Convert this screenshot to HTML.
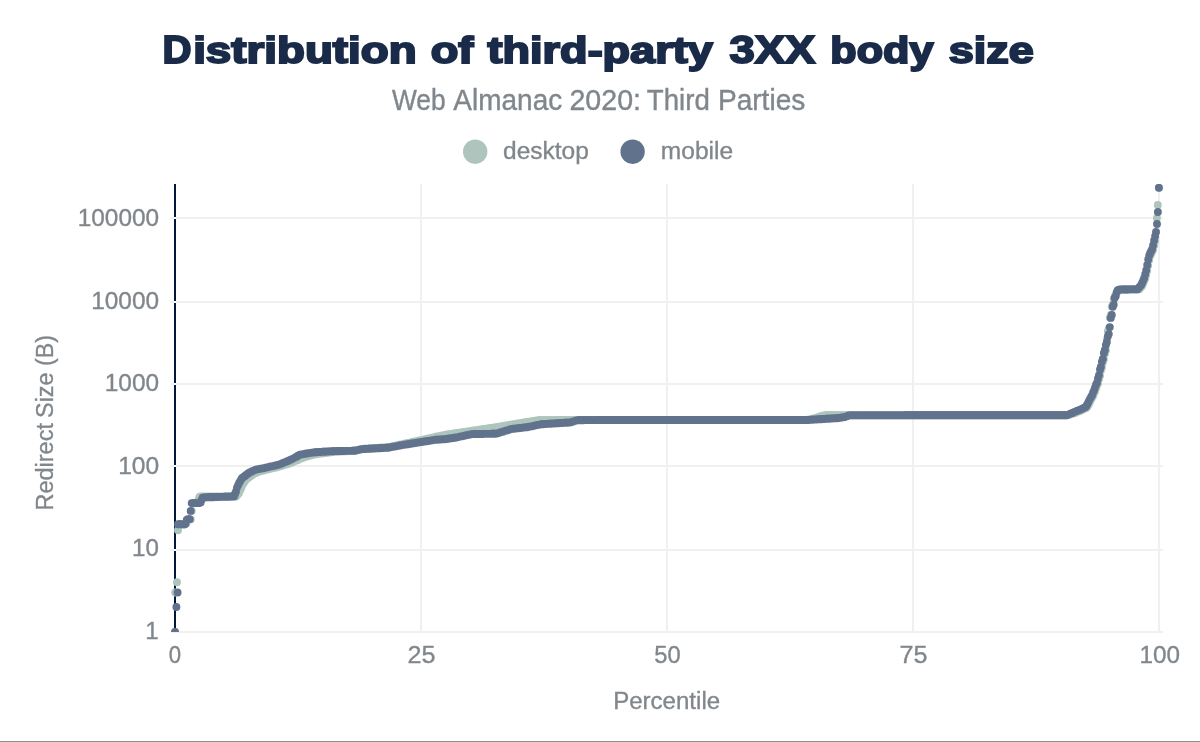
<!DOCTYPE html>
<html lang="en"><head><meta charset="utf-8"><title>Distribution of third-party 3XX body size</title>
<style>html,body{margin:0;padding:0;background:#fff;overflow:hidden}svg{display:block}text{font-family:"Liberation Sans",sans-serif;white-space:pre}</style></head><body>
<svg width="1200" height="742" viewBox="0 0 1200 742">
<rect width="1200" height="742" fill="#fff"/>
<g fill="#f0f0f0"><rect x="420" y="184" width="2" height="449"/><rect x="666" y="184" width="2" height="449"/><rect x="912" y="184" width="2" height="449"/><rect x="1158" y="184" width="2" height="449"/><rect x="171" y="217" width="992" height="2"/><rect x="171" y="301" width="992" height="2"/><rect x="171" y="383" width="992" height="2"/><rect x="171" y="465" width="992" height="2"/><rect x="171" y="549" width="992" height="2"/><rect x="171" y="631" width="992" height="2"/></g>
<rect x="174" y="184" width="2" height="448" fill="#03153a"/>
<g fill="#fff"><rect x="174" y="217" width="2" height="2"/><rect x="174" y="301" width="2" height="2"/><rect x="174" y="383" width="2" height="2"/><rect x="174" y="465" width="2" height="2"/><rect x="174" y="549" width="2" height="2"/></g>
<defs><clipPath id="c"><rect x="170" y="184" width="994" height="448"/></clipPath></defs>
<g clip-path="url(#c)" fill="none" stroke-linecap="round" stroke-width="7.90">
<path stroke="#adc5bd" d="M178.9 524.5h0M179.9 524.5h0M180.9 524.5h0M181.9 524.5h0M182.9 524.5h0M183.9 524.5h0M184.8 524.5h0M185.8 523.8h0M186.8 520.3h0M187.8 519.6h0M188.8 519.6h0M189.8 519.6h0M190.7 519.6h0M191.7 510.9h0M192.7 503.1h0M193.7 503.1h0M194.7 503.1h0M195.7 503.1h0M196.6 503.1h0M197.6 502.4h0M198.6 499.3h0M199.6 496.8h0M200.6 496.8h0M201.6 496.8h0M202.6 496.8h0M203.5 496.8h0M204.5 496.7h0M205.5 496.7h0M206.5 496.7h0M207.5 496.7h0M208.5 496.7h0M209.4 496.7h0M210.4 496.7h0M211.4 496.7h0M212.4 496.7h0M213.4 496.7h0M214.4 496.6h0M215.3 496.6h0M216.3 496.6h0M217.3 496.6h0M218.3 496.6h0M219.3 496.6h0M220.3 496.6h0M221.2 496.6h0M222.2 496.6h0M223.2 496.6h0M224.2 496.6h0M225.2 496.6h0M226.2 496.6h0M227.2 496.6h0M228.1 496.6h0M229.1 496.6h0M230.1 496.6h0M231.1 496.6h0M232.1 496.6h0M233.1 496.6h0M234.0 496.6h0M235.0 496.6h0M236.0 496.6h0M237.0 495.4h0M238.0 494.3h0M239.0 493.1h0M239.9 490.7h0M240.9 488.7h0M241.9 486.2h0M242.9 484.2h0M243.9 482.7h0M244.9 481.2h0M245.8 479.7h0M246.8 478.9h0M247.8 478.1h0M248.8 477.4h0M249.8 476.6h0M250.8 475.9h0M251.8 475.2h0M252.7 474.5h0M253.7 474.0h0M254.7 473.6h0M255.7 473.1h0M256.7 472.7h0M257.7 472.2h0M258.6 471.8h0M259.6 471.5h0M260.6 471.2h0M261.6 471.0h0M262.6 470.8h0M263.6 470.5h0M264.5 470.3h0M265.5 470.0h0M266.5 469.8h0M267.5 469.6h0M268.5 469.3h0M269.5 469.1h0M270.4 468.8h0M271.4 468.6h0M272.4 468.3h0M273.4 468.1h0M274.4 467.9h0M275.4 467.6h0M276.4 467.4h0M277.3 467.1h0M278.3 466.9h0M279.3 466.6h0M280.3 466.3h0M281.3 466.0h0M282.3 465.7h0M283.2 465.4h0M284.2 465.1h0M285.2 464.8h0M286.2 464.5h0M287.2 464.2h0M288.2 464.0h0M289.1 463.6h0M290.1 463.2h0M291.1 462.8h0M292.1 462.4h0M293.1 462.0h0M294.1 461.5h0M295.0 461.1h0M296.0 460.7h0M297.0 460.3h0M298.0 459.9h0M299.0 459.4h0M300.0 459.0h0M301.0 458.6h0M301.9 458.2h0M302.9 457.7h0M303.9 457.4h0M304.9 457.1h0M305.9 456.8h0M306.9 456.5h0M307.8 456.2h0M308.8 456.0h0M309.8 455.7h0M310.8 455.5h0M311.8 455.3h0M312.8 455.1h0M313.7 454.8h0M314.7 454.6h0M315.7 454.4h0M316.7 454.2h0M317.7 454.0h0M318.7 453.8h0M319.6 453.7h0M320.6 453.6h0M321.6 453.5h0M322.6 453.3h0M323.6 453.2h0M324.6 453.1h0M325.6 453.0h0M326.5 452.8h0M327.5 452.7h0M328.5 452.6h0M329.5 452.5h0M330.5 452.4h0M331.5 452.2h0M332.4 452.1h0M333.4 452.0h0M334.4 451.9h0M335.4 451.8h0M336.4 451.7h0M337.4 451.7h0M338.3 451.6h0M339.3 451.6h0M340.3 451.5h0M341.3 451.5h0M342.3 451.4h0M343.3 451.4h0M344.2 451.3h0M345.2 451.3h0M346.2 451.2h0M347.2 451.2h0M348.2 451.1h0M349.2 451.1h0M350.2 451.0h0M351.1 451.0h0M352.1 450.9h0M353.1 450.9h0M354.1 450.8h0M355.1 450.8h0M356.1 450.5h0M357.0 450.3h0M358.0 450.0h0M359.0 449.7h0M360.0 449.5h0M361.0 449.2h0M362.0 449.0h0M362.9 448.9h0M363.9 448.8h0M364.9 448.8h0M365.9 448.7h0M366.9 448.6h0M367.9 448.6h0M368.8 448.5h0M369.8 448.4h0M370.8 448.4h0M371.8 448.3h0M372.8 448.2h0M373.8 448.2h0M374.8 448.1h0M375.7 448.1h0M376.7 448.0h0M377.7 447.9h0M378.7 447.9h0M379.7 447.8h0M380.7 447.7h0M381.6 447.7h0M382.6 447.6h0M383.6 447.5h0M384.6 447.5h0M385.6 447.4h0M386.6 447.3h0M387.5 447.3h0M388.5 447.2h0M389.5 446.9h0M390.5 446.7h0M391.5 446.5h0M392.5 446.3h0M393.4 446.1h0M394.4 445.9h0M395.4 445.7h0M396.4 445.4h0M397.4 445.2h0M398.4 445.0h0M399.4 444.8h0M400.3 444.6h0M401.3 444.4h0M402.3 444.2h0M403.3 444.0h0M404.3 443.7h0M405.3 443.5h0M406.2 443.3h0M407.2 443.1h0M408.2 442.9h0M409.2 442.7h0M410.2 442.5h0M411.2 442.3h0M412.1 442.1h0M413.1 441.8h0M414.1 441.6h0M415.1 441.4h0M416.1 441.2h0M417.1 441.0h0M418.0 440.8h0M419.0 440.6h0M420.0 440.4h0M421.0 440.2h0M422.0 439.9h0M423.0 439.7h0M424.0 439.5h0M424.9 439.3h0M425.9 439.0h0M426.9 438.8h0M427.9 438.6h0M428.9 438.4h0M429.9 438.2h0M430.8 437.9h0M431.8 437.7h0M432.8 437.5h0M433.8 437.3h0M434.8 437.1h0M435.8 436.8h0M436.7 436.6h0M437.7 436.4h0M438.7 436.2h0M439.7 436.0h0M440.7 435.8h0M441.7 435.6h0M442.6 435.4h0M443.6 435.2h0M444.6 435.0h0M445.6 434.8h0M446.6 434.7h0M447.6 434.5h0M448.6 434.4h0M449.5 434.2h0M450.5 434.1h0M451.5 433.9h0M452.5 433.8h0M453.5 433.6h0M454.5 433.5h0M455.4 433.3h0M456.4 433.2h0M457.4 433.0h0M458.4 432.9h0M459.4 432.7h0M460.4 432.6h0M461.3 432.5h0M462.3 432.3h0M463.3 432.2h0M464.3 432.0h0M465.3 431.9h0M466.3 431.7h0M467.2 431.6h0M468.2 431.4h0M469.2 431.3h0M470.2 431.1h0M471.2 431.0h0M472.2 430.8h0M473.2 430.7h0M474.1 430.5h0M475.1 430.4h0M476.1 430.2h0M477.1 430.1h0M478.1 429.9h0M479.1 429.8h0M480.0 429.6h0M481.0 429.5h0M482.0 429.3h0M483.0 429.2h0M484.0 429.1h0M485.0 428.9h0M485.9 428.8h0M486.9 428.6h0M487.9 428.5h0M488.9 428.3h0M489.9 428.2h0M490.9 428.0h0M491.8 427.9h0M492.8 427.7h0M493.8 427.6h0M494.8 427.4h0M495.8 427.3h0M496.8 427.1h0M497.8 427.0h0M498.7 426.8h0M499.7 426.7h0M500.7 426.5h0M501.7 426.3h0M502.7 426.2h0M503.7 426.0h0M504.6 425.8h0M505.6 425.7h0M506.6 425.5h0M507.6 425.3h0M508.6 425.2h0M509.6 425.0h0M510.5 424.8h0M511.5 424.7h0M512.5 424.5h0M513.5 424.3h0M514.5 424.1h0M515.5 424.0h0M516.4 423.8h0M517.4 423.6h0M518.4 423.5h0M519.4 423.3h0M520.4 423.2h0M521.4 423.0h0M522.4 422.8h0M523.3 422.7h0M524.3 422.5h0M525.3 422.3h0M526.3 422.2h0M527.3 422.0h0M528.3 421.9h0M529.2 421.7h0M530.2 421.5h0M531.2 421.4h0M532.2 421.2h0M533.2 421.0h0M534.2 420.9h0M535.1 420.7h0M536.1 420.6h0M537.1 420.4h0M538.1 420.2h0M539.1 420.2h0M540.1 420.2h0M541.0 420.2h0M542.0 420.2h0M543.0 420.2h0M544.0 420.1h0M545.0 420.1h0M546.0 420.1h0M547.0 420.1h0M547.9 420.1h0M548.9 420.1h0M549.9 420.1h0M550.9 420.1h0M551.9 420.1h0M552.9 420.1h0M553.8 420.1h0M554.8 420.1h0M555.8 420.0h0M556.8 420.0h0M557.8 420.0h0M558.8 420.0h0M559.7 420.0h0M560.7 420.0h0M561.7 420.0h0M562.7 420.0h0M563.7 420.0h0M564.7 420.0h0M565.6 420.0h0M566.6 419.9h0M567.6 419.9h0M568.6 419.9h0M569.6 419.9h0M570.6 419.9h0M571.6 419.9h0M572.5 419.9h0M573.5 419.9h0M574.5 419.9h0M575.5 419.9h0M576.5 419.9h0M577.5 419.9h0M578.4 419.9h0M579.4 419.9h0M580.4 419.9h0M581.4 419.9h0M582.4 419.9h0M583.4 419.9h0M584.3 419.9h0M585.3 419.9h0M586.3 419.9h0M587.3 419.9h0M588.3 419.9h0M589.3 420.0h0M590.2 420.0h0M591.2 420.0h0M592.2 420.0h0M593.2 420.0h0M594.2 420.0h0M595.2 420.0h0M596.2 420.0h0M597.1 420.0h0M598.1 420.0h0M599.1 420.0h0M600.1 420.0h0M601.1 420.0h0M602.1 420.0h0M603.0 420.0h0M604.0 420.0h0M605.0 420.0h0M606.0 420.0h0M607.0 420.0h0M608.0 420.0h0M608.9 420.0h0M609.9 420.0h0M610.9 420.0h0M611.9 420.0h0M612.9 420.0h0M613.9 420.0h0M614.8 420.0h0M615.8 420.0h0M616.8 420.0h0M617.8 420.0h0M618.8 420.0h0M619.8 420.0h0M620.8 420.0h0M621.7 420.0h0M622.7 420.0h0M623.7 420.0h0M624.7 420.0h0M625.7 420.0h0M626.7 420.0h0M627.6 420.0h0M628.6 420.0h0M629.6 420.0h0M630.6 420.0h0M631.6 420.0h0M632.6 420.0h0M633.5 420.0h0M634.5 420.0h0M635.5 420.0h0M636.5 420.0h0M637.5 420.0h0M638.5 420.0h0M639.4 420.0h0M640.4 420.0h0M641.4 420.0h0M642.4 420.0h0M643.4 420.0h0M644.4 420.0h0M645.4 420.0h0M646.3 420.0h0M647.3 420.0h0M648.3 420.0h0M649.3 420.0h0M650.3 420.0h0M651.3 420.0h0M652.2 420.0h0M653.2 420.0h0M654.2 420.0h0M655.2 420.0h0M656.2 420.0h0M657.2 420.0h0M658.1 420.0h0M659.1 420.0h0M660.1 420.0h0M661.1 420.0h0M662.1 420.0h0M663.1 420.0h0M664.0 420.0h0M665.0 420.0h0M666.0 420.0h0M667.0 420.0h0M668.0 420.0h0M669.0 420.0h0M670.0 420.0h0M670.9 420.0h0M671.9 420.0h0M672.9 420.0h0M673.9 420.0h0M674.9 420.0h0M675.9 420.0h0M676.8 420.0h0M677.8 420.0h0M678.8 420.0h0M679.8 420.0h0M680.8 420.0h0M681.8 420.0h0M682.7 420.0h0M683.7 420.0h0M684.7 420.0h0M685.7 420.0h0M686.7 420.0h0M687.7 420.0h0M688.6 420.0h0M689.6 420.0h0M690.6 420.0h0M691.6 420.0h0M692.6 420.0h0M693.6 420.0h0M694.6 420.0h0M695.5 420.0h0M696.5 420.0h0M697.5 420.0h0M698.5 420.0h0M699.5 420.0h0M700.5 420.0h0M701.4 420.0h0M702.4 420.0h0M703.4 420.0h0M704.4 420.0h0M705.4 420.0h0M706.4 420.0h0M707.3 420.0h0M708.3 420.0h0M709.3 420.0h0M710.3 420.0h0M711.3 420.0h0M712.3 420.0h0M713.2 420.0h0M714.2 420.0h0M715.2 420.0h0M716.2 420.0h0M717.2 420.0h0M718.2 420.0h0M719.2 420.0h0M720.1 420.0h0M721.1 420.0h0M722.1 420.0h0M723.1 420.0h0M724.1 420.0h0M725.1 420.0h0M726.0 420.0h0M727.0 420.0h0M728.0 420.0h0M729.0 420.0h0M730.0 420.0h0M731.0 420.0h0M731.9 420.0h0M732.9 420.0h0M733.9 420.0h0M734.9 420.0h0M735.9 420.0h0M736.9 420.0h0M737.8 420.0h0M738.8 420.0h0M739.8 420.0h0M740.8 420.0h0M741.8 420.0h0M742.8 420.0h0M743.8 420.0h0M744.7 420.0h0M745.7 420.0h0M746.7 420.0h0M747.7 420.0h0M748.7 420.0h0M749.7 420.0h0M750.6 420.0h0M751.6 420.0h0M752.6 420.0h0M753.6 420.0h0M754.6 420.0h0M755.6 420.0h0M756.5 420.0h0M757.5 420.0h0M758.5 420.0h0M759.5 420.0h0M760.5 420.0h0M761.5 420.0h0M762.4 420.0h0M763.4 420.0h0M764.4 420.0h0M765.4 420.0h0M766.4 420.0h0M767.4 420.0h0M768.4 420.0h0M769.3 420.0h0M770.3 420.0h0M771.3 420.0h0M772.3 420.0h0M773.3 420.0h0M774.3 420.0h0M775.2 420.0h0M776.2 420.0h0M777.2 420.0h0M778.2 420.0h0M779.2 420.0h0M780.2 420.0h0M781.1 420.0h0M782.1 420.0h0M783.1 420.0h0M784.1 420.0h0M785.1 420.0h0M786.1 420.0h0M787.0 420.0h0M788.0 420.0h0M789.0 420.0h0M790.0 420.0h0M791.0 420.0h0M792.0 420.0h0M793.0 420.0h0M793.9 420.0h0M794.9 420.0h0M795.9 420.0h0M796.9 420.0h0M797.9 420.0h0M798.9 420.0h0M799.8 420.0h0M800.8 420.0h0M801.8 420.0h0M802.8 420.0h0M803.8 420.0h0M804.8 420.0h0M805.7 420.0h0M806.7 419.9h0M807.7 419.7h0M808.7 419.6h0M809.7 419.4h0M810.7 419.2h0M811.6 419.1h0M812.6 418.8h0M813.6 418.5h0M814.6 418.2h0M815.6 417.9h0M816.6 417.6h0M817.6 417.2h0M818.5 416.9h0M819.5 416.6h0M820.5 416.3h0M821.5 416.0h0M822.5 415.7h0M823.5 415.4h0M824.4 415.2h0M825.4 415.2h0M826.4 415.2h0M827.4 415.2h0M828.4 415.2h0M829.4 415.2h0M830.3 415.2h0M831.3 415.2h0M832.3 415.2h0M833.3 415.2h0M834.3 415.2h0M835.3 415.2h0M836.2 415.2h0M837.2 415.2h0M838.2 415.2h0M839.2 415.2h0M840.2 415.2h0M841.2 415.2h0M842.2 415.2h0M843.1 415.2h0M844.1 415.2h0M845.1 415.2h0M846.1 415.2h0M847.1 415.2h0M848.1 415.2h0M849.0 415.2h0M850.0 415.2h0M851.0 415.2h0M852.0 415.2h0M853.0 415.2h0M854.0 415.2h0M854.9 415.2h0M855.9 415.2h0M856.9 415.2h0M857.9 415.2h0M858.9 415.2h0M859.9 415.2h0M860.8 415.2h0M861.8 415.2h0M862.8 415.2h0M863.8 415.2h0M864.8 415.2h0M865.8 415.2h0M866.8 415.2h0M867.7 415.2h0M868.7 415.2h0M869.7 415.2h0M870.7 415.2h0M871.7 415.2h0M872.7 415.2h0M873.6 415.2h0M874.6 415.2h0M875.6 415.2h0M876.6 415.2h0M877.6 415.2h0M878.6 415.2h0M879.5 415.2h0M880.5 415.2h0M881.5 415.2h0M882.5 415.2h0M883.5 415.2h0M884.5 415.2h0M885.4 415.2h0M886.4 415.2h0M887.4 415.2h0M888.4 415.2h0M889.4 415.2h0M890.4 415.2h0M891.4 415.2h0M892.3 415.2h0M893.3 415.2h0M894.3 415.2h0M895.3 415.2h0M896.3 415.2h0M897.3 415.2h0M898.2 415.2h0M899.2 415.2h0M900.2 415.2h0M901.2 415.2h0M902.2 415.2h0M903.2 415.2h0M904.1 415.2h0M905.1 415.2h0M906.1 415.2h0M907.1 415.2h0M908.1 415.2h0M909.1 415.2h0M910.0 415.2h0M911.0 415.2h0M912.0 415.2h0M913.0 415.2h0M914.0 415.2h0M915.0 415.2h0M916.0 415.2h0M916.9 415.2h0M917.9 415.2h0M918.9 415.2h0M919.9 415.2h0M920.9 415.2h0M921.9 415.2h0M922.8 415.2h0M923.8 415.2h0M924.8 415.2h0M925.8 415.2h0M926.8 415.2h0M927.8 415.2h0M928.7 415.2h0M929.7 415.2h0M930.7 415.2h0M931.7 415.2h0M932.7 415.2h0M933.7 415.2h0M934.6 415.2h0M935.6 415.2h0M936.6 415.2h0M937.6 415.2h0M938.6 415.2h0M939.6 415.2h0M940.6 415.2h0M941.5 415.2h0M942.5 415.2h0M943.5 415.2h0M944.5 415.2h0M945.5 415.2h0M946.5 415.2h0M947.4 415.2h0M948.4 415.2h0M949.4 415.2h0M950.4 415.2h0M951.4 415.2h0M952.4 415.2h0M953.3 415.2h0M954.3 415.2h0M955.3 415.2h0M956.3 415.2h0M957.3 415.2h0M958.3 415.2h0M959.2 415.2h0M960.2 415.2h0M961.2 415.2h0M962.2 415.2h0M963.2 415.2h0M964.2 415.2h0M965.2 415.2h0M966.1 415.2h0M967.1 415.2h0M968.1 415.2h0M969.1 415.2h0M970.1 415.2h0M971.1 415.2h0M972.0 415.2h0M973.0 415.2h0M974.0 415.2h0M975.0 415.2h0M976.0 415.2h0M977.0 415.2h0M977.9 415.2h0M978.9 415.2h0M979.9 415.2h0M980.9 415.2h0M981.9 415.2h0M982.9 415.2h0M983.8 415.2h0M984.8 415.2h0M985.8 415.2h0M986.8 415.2h0M987.8 415.2h0M988.8 415.2h0M989.8 415.2h0M990.7 415.2h0M991.7 415.2h0M992.7 415.2h0M993.7 415.2h0M994.7 415.2h0M995.7 415.2h0M996.6 415.2h0M997.6 415.2h0M998.6 415.2h0M999.6 415.2h0M1000.6 415.2h0M1001.6 415.2h0M1002.5 415.2h0M1003.5 415.2h0M1004.5 415.2h0M1005.5 415.2h0M1006.5 415.2h0M1007.5 415.2h0M1008.4 415.2h0M1009.4 415.2h0M1010.4 415.2h0M1011.4 415.2h0M1012.4 415.2h0M1013.4 415.2h0M1014.4 415.2h0M1015.3 415.2h0M1016.3 415.2h0M1017.3 415.2h0M1018.3 415.2h0M1019.3 415.2h0M1020.3 415.2h0M1021.2 415.2h0M1022.2 415.2h0M1023.2 415.2h0M1024.2 415.2h0M1025.2 415.2h0M1026.2 415.2h0M1027.1 415.2h0M1028.1 415.2h0M1029.1 415.2h0M1030.1 415.2h0M1031.1 415.2h0M1032.1 415.2h0M1033.0 415.2h0M1034.0 415.2h0M1035.0 415.2h0M1036.0 415.2h0M1037.0 415.2h0M1038.0 415.2h0M1039.0 415.2h0M1039.9 415.2h0M1040.9 415.2h0M1041.9 415.2h0M1042.9 415.2h0M1043.9 415.2h0M1044.9 415.2h0M1045.8 415.2h0M1046.8 415.2h0M1047.8 415.2h0M1048.8 415.2h0M1049.8 415.2h0M1050.8 415.2h0M1051.7 415.2h0M1052.7 415.2h0M1053.7 415.2h0M1054.7 415.2h0M1055.7 415.2h0M1056.7 415.2h0M1057.6 415.2h0M1058.6 415.2h0M1059.6 415.2h0M1060.6 415.2h0M1061.6 415.2h0M1062.6 415.2h0M1063.6 415.2h0M1064.5 415.2h0M1065.5 415.2h0M1066.5 415.2h0M1067.5 415.2h0M1068.5 415.1h0M1069.5 414.7h0M1070.4 414.4h0M1071.4 414.1h0M1072.4 413.8h0M1073.4 413.5h0M1074.4 413.2h0M1075.4 412.8h0M1076.3 412.4h0M1077.3 412.0h0M1078.3 411.6h0M1079.3 411.2h0M1080.3 410.9h0M1081.3 410.5h0M1082.2 410.0h0M1083.2 409.5h0M1084.2 409.0h0M1085.2 408.6h0M1086.2 408.1h0M1087.2 407.1h0M1088.2 405.3h0M1089.1 403.4h0M1090.1 401.4h0M1091.1 399.4h0M1092.1 397.7h0M1093.1 396.1h0M1094.1 393.2h0M1095.0 391.2h0M1096.0 388.4h0M1097.0 385.5h0M1098.0 383.5h0M1099.0 379.3h0M1100.0 376.0h0M1100.9 370.4h0M1101.9 367.6h0M1102.9 362.5h0M1103.9 359.6h0M1104.9 353.8h0M1105.9 350.5h0M1106.8 339.8h0M1107.8 331.1h0M1108.8 328.5h0M1109.8 317.7h0M1110.8 314.9h0M1111.8 306.6h0M1112.8 304.6h0M1113.7 299.0h0M1114.7 296.5h0M1115.7 294.7h0M1116.7 292.9h0M1117.7 291.5h0M1118.7 290.2h0M1119.6 289.8h0M1120.6 289.8h0M1121.6 289.8h0M1122.6 289.7h0M1123.6 289.7h0M1124.6 289.7h0M1125.5 289.7h0M1126.5 289.7h0M1127.5 289.7h0M1128.5 289.7h0M1129.5 289.6h0M1130.5 289.6h0M1131.4 289.6h0M1132.4 289.6h0M1133.4 289.6h0M1134.4 289.6h0M1135.4 289.6h0M1136.4 289.5h0M1137.4 289.5h0M1138.3 289.5h0M1139.3 289.2h0M1140.3 288.1h0M1141.3 287.1h0M1142.3 285.5h0M1143.3 283.3h0M1144.2 281.0h0M1145.2 278.7h0M1146.2 274.8h0M1147.2 270.8h0M1148.2 265.5h0M1149.2 260.1h0M1150.1 256.2h0M1151.1 254.1h0M1152.1 252.1h0M1153.1 250.0h0M1154.1 245.8h0M1155.1 241.0h0M175.0 632.0h0M175.2 592.5h0M177.0 582.2h0M178.0 530.2h0M1156.9 218.0h0M1157.8 205.0h0M1158.9 187.8h0"/>
<path stroke="#61728c" d="M178.0 524.3h0M178.9 524.3h0M179.9 524.3h0M180.9 524.3h0M181.9 524.3h0M182.9 524.3h0M183.9 524.3h0M184.8 524.3h0M185.8 523.5h0M186.8 519.9h0M187.8 519.1h0M188.8 519.1h0M189.8 519.1h0M190.7 510.9h0M191.7 503.1h0M192.7 503.1h0M193.7 503.1h0M194.7 503.1h0M195.7 503.1h0M196.6 503.1h0M197.6 503.1h0M198.6 503.1h0M199.6 503.1h0M200.6 502.5h0M201.6 499.9h0M202.6 497.7h0M203.5 497.5h0M204.5 497.4h0M205.5 497.4h0M206.5 497.4h0M207.5 497.3h0M208.5 497.3h0M209.4 497.3h0M210.4 497.3h0M211.4 497.2h0M212.4 497.2h0M213.4 497.2h0M214.4 497.1h0M215.3 497.1h0M216.3 497.1h0M217.3 497.0h0M218.3 497.0h0M219.3 497.0h0M220.3 496.9h0M221.2 496.9h0M222.2 496.9h0M223.2 496.9h0M224.2 496.8h0M225.2 496.8h0M226.2 496.8h0M227.2 496.7h0M228.1 496.7h0M229.1 496.7h0M230.1 496.6h0M231.1 496.6h0M232.1 496.6h0M233.1 496.5h0M234.0 496.5h0M235.0 493.9h0M236.0 491.5h0M237.0 487.6h0M238.0 485.4h0M239.0 483.3h0M239.9 481.6h0M240.9 479.9h0M241.9 478.3h0M242.9 477.5h0M243.9 476.7h0M244.9 476.0h0M245.8 475.2h0M246.8 474.4h0M247.8 473.6h0M248.8 472.9h0M249.8 472.4h0M250.8 472.0h0M251.8 471.5h0M252.7 471.0h0M253.7 470.6h0M254.7 470.1h0M255.7 469.7h0M256.7 469.5h0M257.7 469.3h0M258.6 469.1h0M259.6 468.9h0M260.6 468.7h0M261.6 468.6h0M262.6 468.4h0M263.6 468.2h0M264.5 468.0h0M265.5 467.8h0M266.5 467.5h0M267.5 467.3h0M268.5 467.1h0M269.5 466.8h0M270.4 466.6h0M271.4 466.4h0M272.4 466.1h0M273.4 465.9h0M274.4 465.7h0M275.4 465.4h0M276.4 465.2h0M277.3 465.0h0M278.3 464.7h0M279.3 464.4h0M280.3 464.1h0M281.3 463.7h0M282.3 463.3h0M283.2 462.9h0M284.2 462.5h0M285.2 462.1h0M286.2 461.7h0M287.2 461.3h0M288.2 460.9h0M289.1 460.5h0M290.1 460.0h0M291.1 459.5h0M292.1 459.1h0M293.1 458.6h0M294.1 458.1h0M295.0 457.6h0M296.0 457.0h0M297.0 456.4h0M298.0 455.7h0M299.0 455.1h0M300.0 454.8h0M301.0 454.6h0M301.9 454.4h0M302.9 454.2h0M303.9 454.0h0M304.9 453.8h0M305.9 453.7h0M306.9 453.5h0M307.8 453.4h0M308.8 453.2h0M309.8 453.1h0M310.8 452.9h0M311.8 452.8h0M312.8 452.6h0M313.7 452.5h0M314.7 452.3h0M315.7 452.3h0M316.7 452.2h0M317.7 452.1h0M318.7 452.1h0M319.6 452.0h0M320.6 452.0h0M321.6 451.9h0M322.6 451.8h0M323.6 451.8h0M324.6 451.7h0M325.6 451.7h0M326.5 451.6h0M327.5 451.5h0M328.5 451.5h0M329.5 451.4h0M330.5 451.4h0M331.5 451.3h0M332.4 451.3h0M333.4 451.2h0M334.4 451.1h0M335.4 451.1h0M336.4 451.1h0M337.4 451.1h0M338.3 451.0h0M339.3 451.0h0M340.3 451.0h0M341.3 451.0h0M342.3 451.0h0M343.3 451.0h0M344.2 451.0h0M345.2 450.9h0M346.2 450.9h0M347.2 450.9h0M348.2 450.9h0M349.2 450.9h0M350.2 450.9h0M351.1 450.9h0M352.1 450.8h0M353.1 450.8h0M354.1 450.8h0M355.1 450.8h0M356.1 450.5h0M357.0 450.3h0M358.0 450.1h0M359.0 449.8h0M360.0 449.6h0M361.0 449.4h0M362.0 449.2h0M362.9 449.1h0M363.9 449.1h0M364.9 449.0h0M365.9 449.0h0M366.9 448.9h0M367.9 448.9h0M368.8 448.8h0M369.8 448.7h0M370.8 448.7h0M371.8 448.6h0M372.8 448.6h0M373.8 448.5h0M374.8 448.5h0M375.7 448.4h0M376.7 448.4h0M377.7 448.3h0M378.7 448.2h0M379.7 448.2h0M380.7 448.1h0M381.6 448.1h0M382.6 448.0h0M383.6 448.0h0M384.6 447.9h0M385.6 447.9h0M386.6 447.8h0M387.5 447.7h0M388.5 447.7h0M389.5 447.5h0M390.5 447.3h0M391.5 447.1h0M392.5 446.9h0M393.4 446.7h0M394.4 446.6h0M395.4 446.4h0M396.4 446.2h0M397.4 446.0h0M398.4 445.8h0M399.4 445.6h0M400.3 445.5h0M401.3 445.3h0M402.3 445.1h0M403.3 444.9h0M404.3 444.8h0M405.3 444.6h0M406.2 444.5h0M407.2 444.3h0M408.2 444.2h0M409.2 444.0h0M410.2 443.8h0M411.2 443.7h0M412.1 443.5h0M413.1 443.4h0M414.1 443.2h0M415.1 443.1h0M416.1 442.9h0M417.1 442.7h0M418.0 442.6h0M419.0 442.4h0M420.0 442.3h0M421.0 442.1h0M422.0 442.0h0M423.0 441.8h0M424.0 441.6h0M424.9 441.5h0M425.9 441.3h0M426.9 441.2h0M427.9 441.0h0M428.9 440.9h0M429.9 440.7h0M430.8 440.6h0M431.8 440.4h0M432.8 440.2h0M433.8 440.1h0M434.8 439.9h0M435.8 439.8h0M436.7 439.8h0M437.7 439.7h0M438.7 439.6h0M439.7 439.6h0M440.7 439.5h0M441.7 439.4h0M442.6 439.4h0M443.6 439.3h0M444.6 439.2h0M445.6 439.1h0M446.6 439.0h0M447.6 438.8h0M448.6 438.7h0M449.5 438.5h0M450.5 438.4h0M451.5 438.3h0M452.5 438.1h0M453.5 438.0h0M454.5 437.8h0M455.4 437.7h0M456.4 437.5h0M457.4 437.3h0M458.4 437.1h0M459.4 436.8h0M460.4 436.6h0M461.3 436.4h0M462.3 436.2h0M463.3 436.0h0M464.3 435.8h0M465.3 435.5h0M466.3 435.3h0M467.2 435.1h0M468.2 434.9h0M469.2 434.7h0M470.2 434.4h0M471.2 434.2h0M472.2 434.1h0M473.2 434.1h0M474.1 434.1h0M475.1 434.1h0M476.1 434.0h0M477.1 434.0h0M478.1 434.0h0M479.1 434.0h0M480.0 434.0h0M481.0 434.0h0M482.0 434.0h0M483.0 434.0h0M484.0 433.9h0M485.0 433.9h0M485.9 433.9h0M486.9 433.9h0M487.9 433.9h0M488.9 433.9h0M489.9 433.9h0M490.9 433.9h0M491.8 433.8h0M492.8 433.8h0M493.8 433.8h0M494.8 433.8h0M495.8 433.8h0M496.8 433.5h0M497.8 433.2h0M498.7 432.9h0M499.7 432.6h0M500.7 432.3h0M501.7 432.0h0M502.7 431.7h0M503.7 431.4h0M504.6 431.1h0M505.6 430.8h0M506.6 430.5h0M507.6 430.2h0M508.6 429.9h0M509.6 429.6h0M510.5 429.3h0M511.5 429.1h0M512.5 428.9h0M513.5 428.8h0M514.5 428.7h0M515.5 428.6h0M516.4 428.4h0M517.4 428.3h0M518.4 428.2h0M519.4 428.1h0M520.4 428.0h0M521.4 427.9h0M522.4 427.7h0M523.3 427.6h0M524.3 427.5h0M525.3 427.4h0M526.3 427.3h0M527.3 427.2h0M528.3 427.0h0M529.2 426.8h0M530.2 426.6h0M531.2 426.4h0M532.2 426.2h0M533.2 425.9h0M534.2 425.7h0M535.1 425.5h0M536.1 425.3h0M537.1 425.1h0M538.1 424.9h0M539.1 424.7h0M540.1 424.5h0M541.0 424.3h0M542.0 424.2h0M543.0 424.2h0M544.0 424.1h0M545.0 424.1h0M546.0 424.0h0M547.0 423.9h0M547.9 423.9h0M548.9 423.8h0M549.9 423.8h0M550.9 423.7h0M551.9 423.6h0M552.9 423.6h0M553.8 423.5h0M554.8 423.5h0M555.8 423.4h0M556.8 423.3h0M557.8 423.3h0M558.8 423.2h0M559.7 423.1h0M560.7 423.1h0M561.7 423.0h0M562.7 423.0h0M563.7 422.9h0M564.7 422.8h0M565.6 422.8h0M566.6 422.7h0M567.6 422.7h0M568.6 422.6h0M569.6 422.5h0M570.6 422.4h0M571.6 422.1h0M572.5 421.7h0M573.5 421.4h0M574.5 421.1h0M575.5 420.7h0M576.5 420.4h0M577.5 420.2h0M578.4 420.2h0M579.4 420.2h0M580.4 420.2h0M581.4 420.2h0M582.4 420.2h0M583.4 420.2h0M584.3 420.1h0M585.3 420.1h0M586.3 420.1h0M587.3 420.1h0M588.3 420.1h0M589.3 420.1h0M590.2 420.1h0M591.2 420.1h0M592.2 420.1h0M593.2 420.1h0M594.2 420.1h0M595.2 420.1h0M596.2 420.1h0M597.1 420.1h0M598.1 420.0h0M599.1 420.0h0M600.1 420.0h0M601.1 420.0h0M602.1 420.0h0M603.0 420.0h0M604.0 420.0h0M605.0 420.0h0M606.0 420.0h0M607.0 420.0h0M608.0 420.0h0M608.9 420.0h0M609.9 420.0h0M610.9 420.0h0M611.9 420.0h0M612.9 420.0h0M613.9 420.0h0M614.8 420.0h0M615.8 420.0h0M616.8 420.0h0M617.8 420.0h0M618.8 420.0h0M619.8 420.0h0M620.8 420.0h0M621.7 420.0h0M622.7 420.0h0M623.7 420.0h0M624.7 420.0h0M625.7 420.0h0M626.7 420.0h0M627.6 420.0h0M628.6 420.0h0M629.6 420.0h0M630.6 420.0h0M631.6 420.0h0M632.6 420.0h0M633.5 420.0h0M634.5 420.0h0M635.5 420.0h0M636.5 420.0h0M637.5 420.0h0M638.5 420.0h0M639.4 420.0h0M640.4 420.0h0M641.4 420.0h0M642.4 420.0h0M643.4 420.0h0M644.4 420.0h0M645.4 420.0h0M646.3 420.0h0M647.3 420.0h0M648.3 420.0h0M649.3 420.0h0M650.3 420.0h0M651.3 420.0h0M652.2 420.0h0M653.2 420.0h0M654.2 420.0h0M655.2 420.0h0M656.2 420.0h0M657.2 420.0h0M658.1 420.0h0M659.1 420.0h0M660.1 420.0h0M661.1 420.0h0M662.1 420.0h0M663.1 420.0h0M664.0 420.0h0M665.0 420.0h0M666.0 420.0h0M667.0 420.0h0M668.0 420.0h0M669.0 420.0h0M670.0 420.0h0M670.9 420.0h0M671.9 420.0h0M672.9 420.0h0M673.9 420.0h0M674.9 420.0h0M675.9 420.0h0M676.8 420.0h0M677.8 420.0h0M678.8 420.0h0M679.8 420.0h0M680.8 420.0h0M681.8 420.0h0M682.7 420.0h0M683.7 420.0h0M684.7 420.0h0M685.7 420.0h0M686.7 420.0h0M687.7 420.0h0M688.6 420.0h0M689.6 420.0h0M690.6 420.0h0M691.6 420.0h0M692.6 420.0h0M693.6 420.0h0M694.6 420.0h0M695.5 420.0h0M696.5 420.0h0M697.5 420.0h0M698.5 420.0h0M699.5 420.0h0M700.5 420.0h0M701.4 420.0h0M702.4 420.0h0M703.4 420.0h0M704.4 420.0h0M705.4 420.0h0M706.4 420.0h0M707.3 420.0h0M708.3 420.0h0M709.3 420.0h0M710.3 420.0h0M711.3 420.0h0M712.3 420.0h0M713.2 420.0h0M714.2 420.0h0M715.2 420.0h0M716.2 420.0h0M717.2 420.0h0M718.2 420.0h0M719.2 420.0h0M720.1 420.0h0M721.1 420.0h0M722.1 420.0h0M723.1 420.0h0M724.1 420.0h0M725.1 420.0h0M726.0 420.0h0M727.0 420.0h0M728.0 420.0h0M729.0 420.0h0M730.0 420.0h0M731.0 420.0h0M731.9 420.0h0M732.9 420.0h0M733.9 420.0h0M734.9 420.0h0M735.9 420.0h0M736.9 420.0h0M737.8 420.0h0M738.8 420.0h0M739.8 420.0h0M740.8 420.0h0M741.8 420.0h0M742.8 420.0h0M743.8 420.0h0M744.7 420.0h0M745.7 420.0h0M746.7 420.0h0M747.7 420.0h0M748.7 420.0h0M749.7 420.0h0M750.6 420.0h0M751.6 420.0h0M752.6 420.0h0M753.6 420.0h0M754.6 420.0h0M755.6 420.0h0M756.5 420.0h0M757.5 420.0h0M758.5 420.0h0M759.5 420.0h0M760.5 420.0h0M761.5 420.0h0M762.4 420.0h0M763.4 420.0h0M764.4 420.0h0M765.4 420.0h0M766.4 420.0h0M767.4 420.0h0M768.4 420.0h0M769.3 420.0h0M770.3 420.0h0M771.3 420.0h0M772.3 420.0h0M773.3 420.0h0M774.3 420.0h0M775.2 420.0h0M776.2 420.0h0M777.2 420.0h0M778.2 420.0h0M779.2 420.0h0M780.2 420.0h0M781.1 420.0h0M782.1 420.0h0M783.1 420.0h0M784.1 420.0h0M785.1 420.0h0M786.1 420.0h0M787.0 420.0h0M788.0 420.0h0M789.0 420.0h0M790.0 420.0h0M791.0 420.0h0M792.0 420.0h0M793.0 420.0h0M793.9 420.0h0M794.9 420.0h0M795.9 420.0h0M796.9 420.0h0M797.9 420.0h0M798.9 420.0h0M799.8 420.0h0M800.8 420.0h0M801.8 420.0h0M802.8 420.0h0M803.8 420.0h0M804.8 420.0h0M805.7 420.0h0M806.7 420.0h0M807.7 420.0h0M808.7 420.0h0M809.7 419.9h0M810.7 419.8h0M811.6 419.8h0M812.6 419.7h0M813.6 419.6h0M814.6 419.6h0M815.6 419.5h0M816.6 419.5h0M817.6 419.4h0M818.5 419.3h0M819.5 419.3h0M820.5 419.2h0M821.5 419.2h0M822.5 419.1h0M823.5 419.0h0M824.4 419.0h0M825.4 418.9h0M826.4 418.8h0M827.4 418.8h0M828.4 418.7h0M829.4 418.7h0M830.3 418.6h0M831.3 418.5h0M832.3 418.5h0M833.3 418.4h0M834.3 418.4h0M835.3 418.3h0M836.2 418.2h0M837.2 418.2h0M838.2 418.1h0M839.2 418.0h0M840.2 417.8h0M841.2 417.6h0M842.2 417.5h0M843.1 417.3h0M844.1 417.1h0M845.1 417.0h0M846.1 416.6h0M847.1 416.2h0M848.1 415.8h0M849.0 415.4h0M850.0 415.4h0M851.0 415.4h0M852.0 415.4h0M853.0 415.4h0M854.0 415.4h0M854.9 415.4h0M855.9 415.4h0M856.9 415.4h0M857.9 415.4h0M858.9 415.4h0M859.9 415.4h0M860.8 415.4h0M861.8 415.4h0M862.8 415.4h0M863.8 415.4h0M864.8 415.4h0M865.8 415.4h0M866.8 415.4h0M867.7 415.4h0M868.7 415.4h0M869.7 415.4h0M870.7 415.4h0M871.7 415.4h0M872.7 415.4h0M873.6 415.4h0M874.6 415.4h0M875.6 415.4h0M876.6 415.4h0M877.6 415.4h0M878.6 415.4h0M879.5 415.4h0M880.5 415.4h0M881.5 415.4h0M882.5 415.4h0M883.5 415.4h0M884.5 415.4h0M885.4 415.4h0M886.4 415.4h0M887.4 415.4h0M888.4 415.4h0M889.4 415.4h0M890.4 415.4h0M891.4 415.4h0M892.3 415.4h0M893.3 415.4h0M894.3 415.4h0M895.3 415.4h0M896.3 415.4h0M897.3 415.4h0M898.2 415.4h0M899.2 415.4h0M900.2 415.4h0M901.2 415.4h0M902.2 415.4h0M903.2 415.4h0M904.1 415.3h0M905.1 415.3h0M906.1 415.3h0M907.1 415.3h0M908.1 415.3h0M909.1 415.3h0M910.0 415.3h0M911.0 415.3h0M912.0 415.3h0M913.0 415.3h0M914.0 415.3h0M915.0 415.3h0M916.0 415.3h0M916.9 415.3h0M917.9 415.3h0M918.9 415.3h0M919.9 415.3h0M920.9 415.3h0M921.9 415.3h0M922.8 415.3h0M923.8 415.3h0M924.8 415.3h0M925.8 415.3h0M926.8 415.3h0M927.8 415.3h0M928.7 415.3h0M929.7 415.3h0M930.7 415.3h0M931.7 415.3h0M932.7 415.3h0M933.7 415.3h0M934.6 415.3h0M935.6 415.3h0M936.6 415.3h0M937.6 415.3h0M938.6 415.3h0M939.6 415.3h0M940.6 415.3h0M941.5 415.3h0M942.5 415.3h0M943.5 415.3h0M944.5 415.3h0M945.5 415.3h0M946.5 415.3h0M947.4 415.3h0M948.4 415.3h0M949.4 415.3h0M950.4 415.3h0M951.4 415.3h0M952.4 415.3h0M953.3 415.3h0M954.3 415.3h0M955.3 415.3h0M956.3 415.3h0M957.3 415.3h0M958.3 415.3h0M959.2 415.3h0M960.2 415.3h0M961.2 415.3h0M962.2 415.3h0M963.2 415.3h0M964.2 415.3h0M965.2 415.3h0M966.1 415.3h0M967.1 415.3h0M968.1 415.3h0M969.1 415.3h0M970.1 415.3h0M971.1 415.3h0M972.0 415.3h0M973.0 415.3h0M974.0 415.3h0M975.0 415.3h0M976.0 415.3h0M977.0 415.3h0M977.9 415.3h0M978.9 415.3h0M979.9 415.3h0M980.9 415.3h0M981.9 415.3h0M982.9 415.3h0M983.8 415.3h0M984.8 415.3h0M985.8 415.3h0M986.8 415.3h0M987.8 415.3h0M988.8 415.3h0M989.8 415.3h0M990.7 415.3h0M991.7 415.3h0M992.7 415.3h0M993.7 415.3h0M994.7 415.3h0M995.7 415.3h0M996.6 415.3h0M997.6 415.3h0M998.6 415.3h0M999.6 415.3h0M1000.6 415.3h0M1001.6 415.3h0M1002.5 415.3h0M1003.5 415.3h0M1004.5 415.3h0M1005.5 415.3h0M1006.5 415.3h0M1007.5 415.3h0M1008.4 415.3h0M1009.4 415.3h0M1010.4 415.3h0M1011.4 415.3h0M1012.4 415.3h0M1013.4 415.2h0M1014.4 415.2h0M1015.3 415.2h0M1016.3 415.2h0M1017.3 415.2h0M1018.3 415.2h0M1019.3 415.2h0M1020.3 415.2h0M1021.2 415.2h0M1022.2 415.2h0M1023.2 415.2h0M1024.2 415.2h0M1025.2 415.2h0M1026.2 415.2h0M1027.1 415.2h0M1028.1 415.2h0M1029.1 415.2h0M1030.1 415.2h0M1031.1 415.2h0M1032.1 415.2h0M1033.0 415.2h0M1034.0 415.2h0M1035.0 415.2h0M1036.0 415.2h0M1037.0 415.2h0M1038.0 415.2h0M1039.0 415.2h0M1039.9 415.2h0M1040.9 415.2h0M1041.9 415.2h0M1042.9 415.2h0M1043.9 415.2h0M1044.9 415.2h0M1045.8 415.2h0M1046.8 415.2h0M1047.8 415.2h0M1048.8 415.2h0M1049.8 415.2h0M1050.8 415.2h0M1051.7 415.2h0M1052.7 415.2h0M1053.7 415.2h0M1054.7 415.2h0M1055.7 415.2h0M1056.7 415.2h0M1057.6 415.2h0M1058.6 415.2h0M1059.6 415.2h0M1060.6 415.2h0M1061.6 415.2h0M1062.6 415.2h0M1063.6 415.2h0M1064.5 415.2h0M1065.5 415.2h0M1066.5 415.2h0M1067.5 415.0h0M1068.5 414.6h0M1069.5 414.1h0M1070.4 413.7h0M1071.4 413.3h0M1072.4 412.9h0M1073.4 412.4h0M1074.4 412.0h0M1075.4 411.6h0M1076.3 411.2h0M1077.3 410.8h0M1078.3 410.4h0M1079.3 410.0h0M1080.3 409.6h0M1081.3 409.2h0M1082.2 408.7h0M1083.2 408.2h0M1084.2 407.8h0M1085.2 407.3h0M1086.2 406.3h0M1087.2 404.5h0M1088.2 402.6h0M1089.1 400.6h0M1090.1 398.6h0M1091.1 396.9h0M1092.1 395.3h0M1093.1 392.4h0M1094.1 390.4h0M1095.0 387.6h0M1096.0 384.7h0M1097.0 382.7h0M1098.0 378.4h0M1099.0 375.1h0M1100.0 369.5h0M1100.9 366.8h0M1101.9 361.6h0M1102.9 358.8h0M1103.9 353.0h0M1104.9 349.9h0M1105.9 344.9h0M1106.8 342.2h0M1107.8 336.4h0M1108.8 334.1h0M1109.8 327.1h0M1110.8 317.9h0M1111.8 315.0h0M1112.8 306.7h0M1113.7 304.7h0M1114.7 298.0h0M1115.7 296.3h0M1116.7 292.1h0M1117.7 290.2h0M1118.7 289.6h0M1119.6 289.6h0M1120.6 289.6h0M1121.6 289.5h0M1122.6 289.5h0M1123.6 289.5h0M1124.6 289.5h0M1125.5 289.5h0M1126.5 289.5h0M1127.5 289.5h0M1128.5 289.4h0M1129.5 289.4h0M1130.5 289.4h0M1131.4 289.4h0M1132.4 289.4h0M1133.4 289.4h0M1134.4 289.3h0M1135.4 289.3h0M1136.4 289.3h0M1137.4 289.2h0M1138.3 288.2h0M1139.3 287.2h0M1140.3 286.1h0M1141.3 284.7h0M1142.3 282.5h0M1143.3 280.2h0M1144.2 277.9h0M1145.2 274.2h0M1146.2 270.3h0M1147.2 264.9h0M1148.2 259.5h0M1149.2 255.4h0M1150.1 253.3h0M1151.1 251.2h0M1152.1 249.2h0M1153.1 245.2h0M1154.1 240.4h0M1155.1 236.2h0M1156.0 232.0h0M175.0 632.0h0M176.4 607.0h0M177.6 592.5h0M1157.0 224.0h0M1157.9 212.0h0M1158.9 187.8h0"/>
</g>
<circle cx="475.2" cy="151.7" r="12.2" fill="#adc5bd"/><circle cx="632.6" cy="151.7" r="12.2" fill="#61728c"/>
<text y="63.00" font-size="39.4" font-weight="bold" fill="#1a2b49" stroke="#1a2b49" stroke-width="2" stroke-linejoin="miter" stroke-miterlimit="3"><tspan x="162.57" textLength="29.05" lengthAdjust="spacingAndGlyphs">D</tspan><tspan x="193.17" textLength="223.40" lengthAdjust="spacingAndGlyphs" font-size="37.4">istribution</tspan> <tspan x="430.65" textLength="42.70" lengthAdjust="spacingAndGlyphs" font-size="37.4">of</tspan> <tspan x="487.60" textLength="225.15" lengthAdjust="spacingAndGlyphs" font-size="37.4">third-party</tspan> <tspan x="729.49" textLength="85.74" lengthAdjust="spacingAndGlyphs">3XX</tspan> <tspan x="830.36" textLength="103.09" lengthAdjust="spacingAndGlyphs" font-size="37.4">body</tspan> <tspan x="948.80" textLength="85.03" lengthAdjust="spacingAndGlyphs" font-size="37.4">size</tspan></text>
<text y="109.80" font-size="29.3" fill="#80878c" stroke="#80878c" stroke-width="0.4" stroke-linejoin="miter" stroke-miterlimit="3"><tspan x="391.90" textLength="53.67" lengthAdjust="spacingAndGlyphs">Web</tspan> <tspan x="453.30" textLength="108.90" lengthAdjust="spacingAndGlyphs">Almanac</tspan> <tspan x="569.48" textLength="71.53" lengthAdjust="spacingAndGlyphs">2020:</tspan> <tspan x="646.83" textLength="63.02" lengthAdjust="spacingAndGlyphs">Third</tspan> <tspan x="717.94" textLength="87.35" lengthAdjust="spacingAndGlyphs">Parties</tspan></text>
<text transform="translate(53.30 508.70) rotate(-90)" y="0" font-size="24.6" fill="#80878c" stroke="#80878c" stroke-width="0.35" stroke-linejoin="miter" stroke-miterlimit="3"><tspan x="-1.91" textLength="87.59" lengthAdjust="spacingAndGlyphs">Redirect</tspan> <tspan x="90.75" textLength="45.56" lengthAdjust="spacingAndGlyphs">Size</tspan> <tspan x="142.78" textLength="30.94" lengthAdjust="spacingAndGlyphs">(B)</tspan></text>
<text x="503.10" y="159.00" font-size="24.4" fill="#80878c" stroke="#80878c" stroke-width="0.35" stroke-linejoin="miter" stroke-miterlimit="3" textLength="85.74" lengthAdjust="spacingAndGlyphs">desktop</text>
<text x="660.79" y="159.00" font-size="24.4" fill="#80878c" stroke="#80878c" stroke-width="0.35" stroke-linejoin="miter" stroke-miterlimit="3" textLength="72.38" lengthAdjust="spacingAndGlyphs">mobile</text>
<text x="77.77" y="226.00" font-size="24.7" fill="#80878c" stroke="#80878c" stroke-width="0.35" stroke-linejoin="miter" stroke-miterlimit="3" textLength="81.31" lengthAdjust="spacingAndGlyphs">100000</text>
<text x="91.17" y="308.50" font-size="24.7" fill="#80878c" stroke="#80878c" stroke-width="0.35" stroke-linejoin="miter" stroke-miterlimit="3" textLength="67.93" lengthAdjust="spacingAndGlyphs">10000</text>
<text x="104.77" y="391.20" font-size="24.7" fill="#80878c" stroke="#80878c" stroke-width="0.35" stroke-linejoin="miter" stroke-miterlimit="3" textLength="54.34" lengthAdjust="spacingAndGlyphs">1000</text>
<text x="118.16" y="473.80" font-size="24.7" fill="#80878c" stroke="#80878c" stroke-width="0.35" stroke-linejoin="miter" stroke-miterlimit="3" textLength="40.99" lengthAdjust="spacingAndGlyphs">100</text>
<text x="132.04" y="556.20" font-size="24.7" fill="#80878c" stroke="#80878c" stroke-width="0.35" stroke-linejoin="miter" stroke-miterlimit="3" textLength="26.86" lengthAdjust="spacingAndGlyphs">10</text>
<text x="145.29" y="639.00" font-size="24.7" fill="#80878c" stroke="#80878c" stroke-width="0.35" stroke-linejoin="miter" stroke-miterlimit="3" textLength="13.43" lengthAdjust="spacingAndGlyphs">1</text>
<text x="168.83" y="662.80" font-size="24.7" fill="#80878c" stroke="#80878c" stroke-width="0.35" stroke-linejoin="miter" stroke-miterlimit="3" textLength="12.33" lengthAdjust="spacingAndGlyphs">0</text>
<text x="407.48" y="662.80" font-size="24.7" fill="#80878c" stroke="#80878c" stroke-width="0.35" stroke-linejoin="miter" stroke-miterlimit="3" textLength="28.01" lengthAdjust="spacingAndGlyphs">25</text>
<text x="654.29" y="662.80" font-size="24.7" fill="#80878c" stroke="#80878c" stroke-width="0.35" stroke-linejoin="miter" stroke-miterlimit="3" textLength="26.40" lengthAdjust="spacingAndGlyphs">50</text>
<text x="899.63" y="662.80" font-size="24.7" fill="#80878c" stroke="#80878c" stroke-width="0.35" stroke-linejoin="miter" stroke-miterlimit="3" textLength="27.96" lengthAdjust="spacingAndGlyphs">75</text>
<text x="1139.58" y="662.80" font-size="24.7" fill="#80878c" stroke="#80878c" stroke-width="0.35" stroke-linejoin="miter" stroke-miterlimit="3" textLength="40.56" lengthAdjust="spacingAndGlyphs">100</text>
<text x="613.14" y="709.30" font-size="24.6" fill="#80878c" stroke="#80878c" stroke-width="0.35" stroke-linejoin="miter" stroke-miterlimit="3" textLength="107.01" lengthAdjust="spacingAndGlyphs">Percentile</text>
<rect x="0" y="741" width="1200" height="1" fill="#8e8e8e"/>
</svg></body></html>
